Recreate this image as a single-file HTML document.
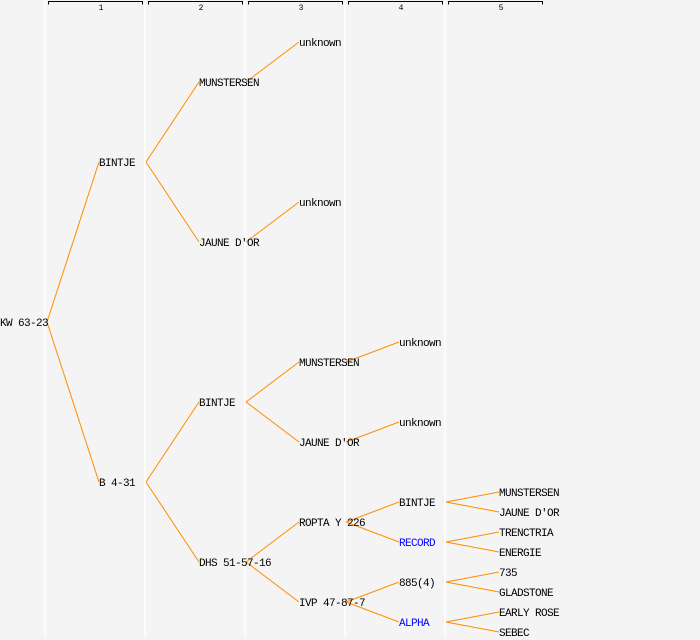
<!DOCTYPE html>
<html><head><meta charset="utf-8"><style>
html,body{margin:0;padding:0;background:#f4f4f4}
svg{display:block}
text{font-family:"Liberation Mono","DejaVu Sans Mono",monospace;font-size:11px;letter-spacing:-0.6px;fill:#000}
</style></head><body>
<svg width="700" height="640" viewBox="0 0 700 640" xmlns="http://www.w3.org/2000/svg">
<rect width="700" height="640" fill="#f4f4f4"/>
<g stroke="#ffffff" stroke-width="1.5">
<line x1="45" y1="0" x2="45" y2="638"/><line x1="145" y1="0" x2="145" y2="638"/><line x1="245" y1="0" x2="245" y2="638"/><line x1="345" y1="0" x2="345" y2="638"/><line x1="445" y1="0" x2="445" y2="638"/>
</g>
<g stroke="#000" stroke-width="1" fill="none">
<path d="M48.5 4.5V1.5H142.5V4.5"/><path d="M148.5 4.5V1.5H242.5V4.5"/><path d="M248.5 4.5V1.5H342.5V4.5"/><path d="M348.5 4.5V1.5H442.5V4.5"/><path d="M448.5 4.5V1.5H542.5V4.5"/>
</g>
<g text-anchor="middle">
<text x="101" y="10" style="font-size:8px;letter-spacing:0">1</text><text x="201" y="10" style="font-size:8px;letter-spacing:0">2</text><text x="301" y="10" style="font-size:8px;letter-spacing:0">3</text><text x="401" y="10" style="font-size:8px;letter-spacing:0">4</text><text x="501" y="10" style="font-size:8px;letter-spacing:0">5</text>
</g>
<g stroke="#ff8c00" stroke-width="1" fill="none">
<path d="M47 322L99 162M47 322L99 482"/>
<path d="M146 162L199 82M146 162L199 242M146 482L199 402M146 482L199 562"/>
<path d="M246 82L299 42M246 242L299 202M246 402L299 362M246 402L299 442M246 562L299 522M246 562L299 602"/>
<path d="M346 362L399 342M346 442L399 422M346 522L399 502M346 522L399 542M346 602L399 582M346 602L399 622"/>
<path d="M446 502L499 492M446 502L499 512M446 542L499 532M446 542L499 552M446 582L499 572M446 582L499 592M446 622L499 612M446 622L499 632"/>
</g>
<text x="0" y="326">KW 63-23</text>
<text x="99" y="166">BINTJE</text><text x="99" y="486">B 4-31</text>
<text x="199" y="86">MUNSTERSEN</text><text x="199" y="246">JAUNE D'OR</text><text x="199" y="406">BINTJE</text><text x="199" y="566">DHS 51-57-16</text>
<text x="299" y="46">unknown</text><text x="299" y="206">unknown</text><text x="299" y="366">MUNSTERSEN</text><text x="299" y="446">JAUNE D'OR</text><text x="299" y="526">ROPTA Y 226</text><text x="299" y="606">IVP 47-87-7</text>
<text x="399" y="346">unknown</text><text x="399" y="426">unknown</text><text x="399" y="506">BINTJE</text><text x="399" y="546" style="fill:#0000ff">RECORD</text><text x="399" y="586">885(4)</text><text x="399" y="626" style="fill:#0000ff">ALPHA</text>
<text x="499" y="496">MUNSTERSEN</text><text x="499" y="516">JAUNE D'OR</text><text x="499" y="536">TRENCTRIA</text><text x="499" y="556">ENERGIE</text><text x="499" y="576">735</text><text x="499" y="596">GLADSTONE</text><text x="499" y="616">EARLY ROSE</text><text x="499" y="636">SEBEC</text>
</svg>
</body></html>
